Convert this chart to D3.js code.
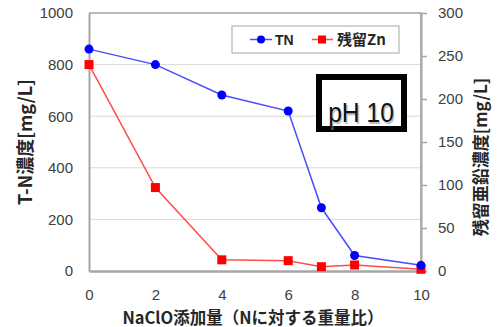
<!DOCTYPE html>
<html>
<head>
<meta charset="utf-8">
<script src="https://cdn.jsdelivr.net/npm/d3@7"></script>
<style>
  body { margin: 0; background: #fff; }
  svg { display: block; }
  text { font-family: "Liberation Sans", Arial, sans-serif; }
  .jp { font-family: "Noto Sans CJK JP", "Liberation Sans", sans-serif; font-weight: bold; }
</style>
</head>
<body>
<svg id="chart" width="502" height="327"></svg>
<script>
(function () {

  var dose = [0, 2, 4, 6, 7, 8, 10]
  var tn = [860, 800, 682, 620, 245, 60, 22]
  var zn = [240, 97, 13, 12, 5, 7, 2]
  var xTicks = [0, 2, 4, 6, 8, 10]
  var leftTicks = [0, 200, 400, 600, 800, 1000]
  var rightTicks = [0, 50, 100, 150, 200, 250, 300]

  var L = 89, R = 421, T = 13, B = 271

  var svg = d3.select('#chart')

  var x = d3.scaleLinear().domain([0, 10]).range([L, R])
  var yL = d3.scaleLinear().domain([0, 1000]).range([B, T])
  var yR = d3.scaleLinear().domain([0, 300]).range([B, T])

  function tickText(g) {
    g.selectAll('text')
      .attr('font-size', 15)
      .attr('fill', '#404040')
      .attr('font-family', '"Liberation Sans", Arial, sans-serif')
  }

  // grid
  svg.append('g')
    .selectAll('line')
    .data(leftTicks.slice(1))
    .join('line')
    .attr('x1', L).attr('x2', R)
    .attr('y1', function (d) { return yL(d) })
    .attr('y2', function (d) { return yL(d) })
    .attr('stroke', '#d9d9d9')
    .attr('stroke-width', 1)

  // frame right + top
  svg.append('path')
    .attr('d', 'M' + L + ',' + T + 'H' + R + 'V' + B)
    .attr('fill', 'none')
    .attr('stroke', '#a6a6a6')
    .attr('stroke-width', 1.5)

  // left axis
  svg.append('g')
    .attr('transform', 'translate(' + L + ',0)')
    .call(d3.axisLeft(yL).tickValues(leftTicks).tickFormat(d3.format('d')).tickSize(0).tickPadding(16))
    .call(function (g) { g.select('.domain').attr('stroke', '#a6a6a6').attr('stroke-width', 2) })
    .call(tickText)

  // right axis
  svg.append('g')
    .attr('transform', 'translate(' + R + ',0)')
    .call(d3.axisRight(yR).tickValues(rightTicks).tickSize(6).tickSizeOuter(0).tickPadding(11))
    .call(function (g) { g.select('.domain').attr('stroke', '#a6a6a6').attr('stroke-width', 2) })
    .call(function (g) { g.selectAll('.tick line').attr('stroke', '#a6a6a6').attr('stroke-width', 1.5) })
    .call(tickText)

  // bottom axis
  svg.append('g')
    .attr('transform', 'translate(0,' + B + ')')
    .call(d3.axisBottom(x).tickValues(xTicks).tickSize(0).tickPadding(18))
    .call(function (g) { g.select('.domain').attr('stroke', '#a6a6a6').attr('stroke-width', 2.5) })
    .call(tickText)

  // lines
  var tnLine = d3.line().x(function (d, i) { return x(dose[i]) }).y(function (d) { return yL(d) })
  var znLine = d3.line().x(function (d, i) { return x(dose[i]) }).y(function (d) { return yR(d) })

  svg.append('path')
    .attr('d', znLine(zn))
    .attr('fill', 'none')
    .attr('stroke', '#ff4b4b')
    .attr('stroke-width', 1.5)

  svg.append('path')
    .attr('d', tnLine(tn))
    .attr('fill', 'none')
    .attr('stroke', '#4b4bff')
    .attr('stroke-width', 1.5)

  svg.append('g')
    .selectAll('rect')
    .data(zn)
    .join('rect')
    .attr('x', function (d, i) { return x(dose[i]) - 4.5 })
    .attr('y', function (d) { return yR(d) - 4.5 })
    .attr('width', 9).attr('height', 9)
    .attr('fill', '#ff0000')

  svg.append('g')
    .selectAll('circle')
    .data(tn)
    .join('circle')
    .attr('cx', function (d, i) { return x(dose[i]) })
    .attr('cy', function (d) { return yL(d) })
    .attr('r', 4.5)
    .attr('fill', '#0000ff')

  // legend
  var lg = svg.append('g')
  lg.append('rect')
    .attr('x', 232).attr('y', 26).attr('width', 167).attr('height', 27)
    .attr('fill', '#fff').attr('stroke', '#a6a6a6').attr('stroke-width', 1)
  lg.append('line').attr('x1', 250).attr('x2', 272).attr('y1', 39.5).attr('y2', 39.5)
    .attr('stroke', '#4b4bff').attr('stroke-width', 1.5)
  lg.append('circle').attr('cx', 261).attr('cy', 39.5).attr('r', 4).attr('fill', '#0000ff')
  lg.append('text').attr('x', 275).attr('y', 45).attr('font-size', 14).attr('font-weight', 'bold')
    .attr('fill', '#262626').text('TN')
  lg.append('line').attr('x1', 312).attr('x2', 333).attr('y1', 39.5).attr('y2', 39.5)
    .attr('stroke', '#ff4b4b').attr('stroke-width', 1.5)
  lg.append('rect').attr('x', 318).attr('y', 35.5).attr('width', 8).attr('height', 8).attr('fill', '#ff0000')
  lg.append('text').attr('class', 'jp').attr('x', 337).attr('y', 45).attr('font-size', 15)
    .attr('fill', '#262626').text('残留Zn')

  // pH box
  svg.append('rect')
    .attr('x', 319).attr('y', 77).attr('width', 85).attr('height', 52)
    .attr('fill', '#fff').attr('stroke', '#000').attr('stroke-width', 6)
  svg.append('text')
    .attr('transform', 'translate(361,122) scale(0.88,1)')
    .attr('text-anchor', 'middle').attr('font-size', 28)
    .attr('fill', '#999').attr('opacity', 0.6).attr('x', 1.5).attr('y', 1.5).text('pH 10')
  svg.append('text')
    .attr('transform', 'translate(361,122) scale(0.88,1)')
    .attr('text-anchor', 'middle').attr('font-size', 28)
    .attr('fill', '#111').text('pH 10')

  // titles
  svg.append('text').attr('class', 'jp')
    .attr('transform', 'translate(32,142) rotate(-90)')
    .attr('text-anchor', 'middle').attr('font-size', 18).attr('fill', '#262626')
    .text('T-N濃度[mg/L]')

  svg.append('text').attr('class', 'jp')
    .attr('transform', 'translate(487,157) rotate(-90)')
    .attr('text-anchor', 'middle').attr('font-size', 17).attr('fill', '#262626')
    .text('残留亜鉛濃度[mg/L]')

  svg.append('text').attr('class', 'jp')
    .attr('x', 253).attr('y', 323.5)
    .attr('text-anchor', 'middle').attr('font-size', 16.5).attr('fill', '#262626')
    .text('NaClO添加量（Nに対する重量比）')

})()
</script>
</body>
</html>
